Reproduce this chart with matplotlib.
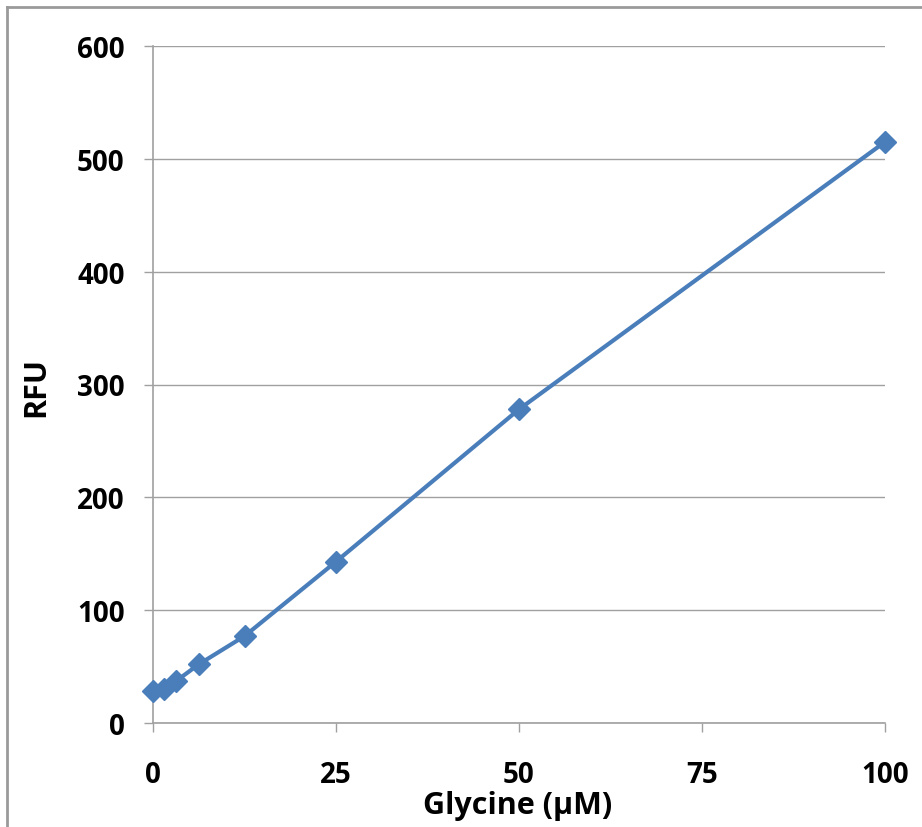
import matplotlib
matplotlib.use("Agg")
import matplotlib.pyplot as plt
from matplotlib.lines import Line2D

glycine = [0, 1.5625, 3.125, 6.25, 12.5, 25, 50, 100]
rfu = [28, 30, 37, 52, 77, 143, 278, 515]
x_ticks = [0, 25, 50, 75, 100]
y_ticks = [0, 100, 200, 300, 400, 500, 600]

plt.rcParams['font.family'] = ['Open Sans', 'DejaVu Sans']
plt.rcParams['font.weight'] = 'bold'

W, H = 922, 828
x0, x1, y0, y1 = 153, 885, 724, 47
fig = plt.figure(figsize=(W / 100, H / 100), dpi=100)
ax = fig.add_axes([x0 / W, (H - y0) / H, (x1 - x0) / W, (y0 - y1) / H])

ax.plot(glycine, rfu, color='#4A7EBB', lw=3, marker='D', markersize=11.5,
        markerfacecolor='#4A7EBB', markeredgecolor='#4A7EBB', clip_on=False, zorder=3)

ax.set_xlim(0, 100)
ax.set_ylim(0, 600)
ax.set_xticks(x_ticks)
ax.set_yticks(y_ticks)
ax.set_xticklabels([str(v) for v in x_ticks])
ax.set_yticklabels([str(v) for v in y_ticks])
ax.yaxis.grid(True, color='#A0A0A0', lw=1)
ax.set_axisbelow(True)

for s in ['top', 'right']:
    ax.spines[s].set_visible(False)
for s in ['left', 'bottom']:
    ax.spines[s].set_color('#A0A0A0')
    ax.spines[s].set_linewidth(1.2)

ax.tick_params(axis='both', direction='out', length=6.5, width=1, color='#A0A0A0',
               labelsize=20, labelcolor='black')
ax.tick_params(axis='y', pad=14)
ax.tick_params(axis='x', pad=20)

ax.set_xlabel('Glycine (μM)', fontsize=22, fontweight='bold', ha='center', va='center')
ax.xaxis.set_label_coords(((422 + 613) / 2 - x0) / (x1 - x0), -(806 - y0) / (y0 - y1))
ax.set_ylabel('RFU', fontsize=22, fontweight='bold', ha='center', va='center')
ax.yaxis.set_label_coords(-(x0 - 36) / (x1 - x0), (y0 - 387) / (y0 - y1))

# outer frame (left and top edges visible)
fig.add_artist(Line2D([7 / W, 7 / W], [0, 1 - 8 / H], transform=fig.transFigure,
                      color='#9A9A9A', lw=2))
fig.add_artist(Line2D([7 / W, 1], [1 - 8 / H, 1 - 8 / H], transform=fig.transFigure,
                      color='#9A9A9A', lw=2))

fig.savefig('out.png', dpi=100, facecolor='white')
